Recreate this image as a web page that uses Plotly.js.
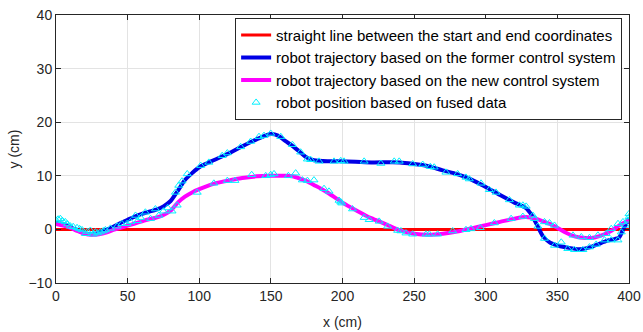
<!DOCTYPE html>
<html>
<head>
<meta charset="utf-8">
<script src="https://cdn.plot.ly/plotly-3.0.1.min.js"></script>
<style>html,body{margin:0;padding:0;background:#fff;}#chart{width:643px;height:332px;}</style>
</head>
<body>
<div id="chart"></div>
<script>
// Straight reference line
const straightX = [0, 400];
const straightY = [0, 0];

// Former control system trajectory
const formerX = [0,5,10,15,20,25,30,35,40,45,50,55,60,65,70,75,80,85,90,95,100,110,120,130,140,150,155,160,165,170,175,180,190,200,220,240,250,260,270,280,290,300,310,320,328,332,336,340,345,350,357,365,372,378,385,390,393,396,400];
const formerY = [1.2,1.0,0.4,-0.2,-0.7,-0.9,-0.6,-0.1,0.5,1.2,1.8,2.4,2.9,3.3,3.7,4.3,5.3,7.2,9.2,10.5,11.6,12.9,14.1,15.5,16.8,17.8,17.5,16.5,15.6,14.5,13.4,12.9,12.7,12.7,12.5,12.5,12.2,11.8,11.0,10.3,9.3,7.9,6.4,5.0,4.0,2.7,0.7,-1.3,-2.5,-3.0,-3.4,-3.7,-3.4,-2.8,-2.1,-1.8,-1.5,0.0,2.0];

// New control system trajectory
const newX = [0,5,10,15,20,25,30,35,40,45,50,55,60,65,70,75,80,85,90,95,100,110,120,130,140,150,160,165,170,175,180,185,190,200,210,220,230,240,250,260,270,280,290,300,310,320,328,335,340,345,350,355,362,370,376,382,388,393,400];
const newY = [1.0,0.7,0.3,-0.3,-0.8,-1.0,-0.9,-0.6,-0.1,0.3,0.7,1.1,1.5,1.9,2.2,2.7,3.5,5.0,6.1,6.9,7.5,8.5,9.1,9.6,9.9,10.0,10.0,9.9,9.5,9.0,8.3,7.6,6.8,5.0,3.5,2.1,1.0,-0.2,-0.8,-1.0,-0.8,-0.4,0.2,0.8,1.4,2.0,2.3,2.0,1.5,1.0,0.3,-0.5,-1.3,-1.6,-1.5,-1.0,-0.2,0.7,1.7];

// Fused-data positions
const fusedX = [0,1.5,3,4.5,6.5,8,10,12,14.7,16.5,18.2,20.5,22,24,26,27.5,29,31,33,34.5,38,42.7,46,49.6,52,55.5,57,59,62.4,66,69.4,71.8,75,78,81,83.4,84.6,85.7,88,91.6,98.6,
101,106.7,116,119.6,128.9,135.9,141.7,145.2,149.9,156.9,165,170.8,175.5,177.8,183.6,194.1,198.8,
110.2,119.6,124.9,136.6,146.4,149.9,152.2,162.2,167.3,172,175.5,180.1,187.1,190.6,197.6,199.5,
201.1,215.1,226.8,236.1,239.6,249,256,261.3,264,272.2,280.4,286.2,288.5,296.7,302.5,
198.8,207,215.1,218.6,225.6,231.5,238.5,240.8,244.3,249,258.3,260.6,266.4,276.9,286.2,289.7,296.2,
307.2,316.5,323.5,325.9,328.2,332.9,336.4,341,348,352.7,357.3,362,367.8,372.4,377.1,382.9,387.6,392.3,394.6,397.6,400,
306,317.7,325.9,334,341,344.5,348,360.9,366.7,372.4,378.3,384.1,387.6,392.3,395.8,399.3,400];
const fusedY = [1.7,1.9,2.0,1.6,1.4,1.0,0.6,0.5,0.3,0.1,-0.1,-0.8,-0.4,-0.2,-0.9,-0.5,-0.7,-0.5,-0.3,-0.1,0.2,0.6,1.05,1.05,1.4,2.6,1.6,2.2,3.2,2.0,3.8,2.6,3.4,4.0,3.4,6.9,4.5,8.2,9.0,10.35,6.9,
11.9,12.5,13.75,14.25,15.4,16.4,17.3,17.5,17.9,17.3,15.8,14.4,13.1,13.0,12.7,12.7,12.8,
8.6,9.1,9.1,10.2,10.0,10.2,10.35,10.0,10.5,9.2,9.1,9.2,7.6,7.1,5.4,4.9,
12.7,12.7,12.3,12.7,12.7,12.2,12.1,11.7,11.6,10.65,10.35,9.7,9.4,8.6,7.4,
5.1,3.8,2.2,1.8,1.5,0.56,-0.2,-0.3,-0.7,-0.9,-0.9,-0.9,-0.9,-0.3,-0.06,0.1,0.3,
6.9,5.5,4.5,4.5,4.3,2.6,0.56,-1.7,-3.0,-2.4,-3.6,-3.8,-3.8,-3.3,-2.8,-2.0,-2.0,-2.0,-0.5,0.74,2.9,
1.2,2.0,2.4,2.0,1.4,1.2,0.74,-1.1,-1.4,-1.55,-1.1,-0.8,0.13,1.06,1.4,1.7,2.3];

const traces = [
  {x: straightX, y: straightY, type: 'scatter', mode: 'lines',
   name: 'straight line between the start and end coordinates',
   line: {color: '#ff0000', width: 3}},
  {x: formerX, y: formerY, type: 'scatter', mode: 'lines',
   name: 'robot trajectory based on the former control system',
   line: {color: '#0000e6', width: 4, shape: 'spline', smoothing: 0.8}},
  {x: newX, y: newY, type: 'scatter', mode: 'lines',
   name: 'robot trajectory based on the new control system',
   line: {color: '#ff00ff', width: 4, shape: 'spline', smoothing: 0.8}},
  {x: fusedX, y: fusedY, type: 'scatter', mode: 'markers',
   name: 'robot position based on fused data',
   marker: {symbol: 'triangle-up-open', color: '#00f0ff', size: 7, line: {width: 1, color: '#00f0ff'}}}
];

const fontFam = 'Liberation Sans, Arial, Helvetica, sans-serif';
const layout = {
  width: 643, height: 332,
  margin: {l: 56, r: 14, t: 15, b: 49, pad: 0},
  paper_bgcolor: '#ffffff', plot_bgcolor: '#ffffff',
  font: {family: fontFam, size: 14, color: '#262626'},
  showlegend: true,
  legend: {x: 0.988, y: 0.99, xanchor: 'right', yanchor: 'top',
           bgcolor: '#ffffff', bordercolor: '#262626', borderwidth: 1,
           font: {family: fontFam, size: 15, color: '#000000'},
           tracegroupgap: 0, itemwidth: 30},
  xaxis: {range: [0, 400], dtick: 50, tick0: 0,
          title: {text: 'x (cm)', font: {size: 14, color: '#262626'}, standoff: 14},
          showgrid: true, gridcolor: '#e3e3e3', gridwidth: 1,
          zeroline: false, showline: true, linecolor: '#262626', linewidth: 1,
          mirror: 'ticks', ticks: 'inside', ticklen: 5, tickcolor: '#262626',
          tickfont: {size: 14, color: '#262626'}},
  yaxis: {range: [-10, 40], dtick: 10, tick0: 0,
          title: {text: 'y (cm)', font: {size: 14, color: '#262626'}, standoff: 5},
          showgrid: true, gridcolor: '#e3e3e3', gridwidth: 1,
          zeroline: false, showline: true, linecolor: '#262626', linewidth: 1,
          mirror: 'ticks', ticks: 'inside', ticklen: 5, tickcolor: '#262626',
          tickfont: {size: 14, color: '#262626'}}
};

Plotly.newPlot('chart', traces, layout, {staticPlot: true, displayModeBar: false});
</script>
</body>
</html>
